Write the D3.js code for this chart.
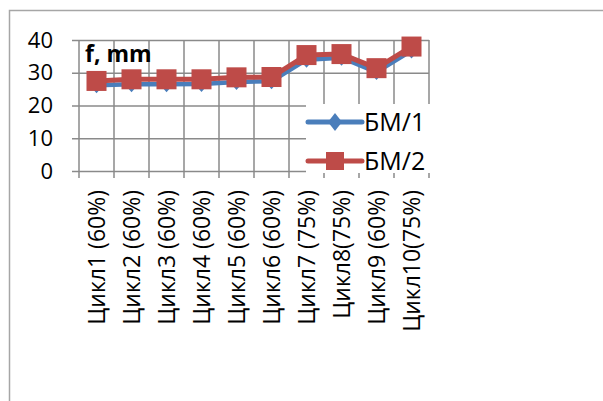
<!DOCTYPE html>
<html>
<head>
<meta charset="utf-8">
<script src="https://cdn.jsdelivr.net/npm/d3@7"></script>
<style>
  body { margin: 0; background: #fff; }
  text { font-family: "Open Sans", "Liberation Sans", sans-serif; }
</style>
</head>
<body>
<div id="chart-area"></div>
<script>
// chart values
const categories = ["Цикл1 (60%)", "Цикл2 (60%)", "Цикл3 (60%)", "Цикл4 (60%)", "Цикл5 (60%)",
    "Цикл6 (60%)", "Цикл7 (75%)", "Цикл8(75%)", "Цикл9 (60%)", "Цикл10(75%)"];
const bm1 = [26.2, 26.5, 26.5, 26.6, 27.2, 27.4, 34.0, 34.6, 30.2, 36.8];
const bm2 = [27.5, 28.0, 28.0, 28.0, 28.6, 28.7, 35.4, 35.7, 31.4, 38.0];
const seriesNames = ["БМ/1", "БМ/2"];
const yTicks = [0, 10, 20, 30, 40];
const axisTitle = "f, mm";

var W = 603, H = 401;
var plotLeft = 79, plotRight = 429, plotTop = 40, plotBottom = 171;
var gridColor = "#8a8a8a";

var svg = d3.select("#chart-area")
    .append("svg")
    .attr("width", W)
    .attr("height", H);

// outer chart frame
svg.append("rect")
    .attr("x", 9.5)
    .attr("y", 10.5)
    .attr("width", W)
    .attr("height", H)
    .attr("fill", "#fff")
    .attr("stroke", "#a6a6a6")
    .attr("stroke-width", 1.5);

const x = d3.scaleBand()
    .domain(categories)
    .range([plotLeft, plotRight])
    .padding(0);

const y = d3.scaleLinear()
    .domain([0, 40])
    .range([plotBottom, plotTop]);

// horizontal grid + y labels
var yAxis = svg.append("g")
    .attr("transform", `translate(${plotLeft - 7}, 0)`)
    .call(d3.axisLeft(y)
        .tickValues(yTicks)
        .tickSize(-(plotRight - plotLeft + 7))
        .tickPadding(19));
yAxis.select(".domain").remove();
yAxis.selectAll("line")
    .attr("stroke", gridColor)
    .attr("stroke-width", 1.5);
yAxis.selectAll("text")
    .attr("font-size", "22px")
    .attr("fill", "#000");

// vertical grid at category boundaries, with ticks below the axis
var bounds = categories.map(c => x(c)).concat([x(categories[categories.length - 1]) + x.bandwidth()]);
svg.append("g")
    .selectAll("line")
    .data(bounds)
    .enter()
    .append("line")
    .attr("x1", d => d)
    .attr("x2", d => d)
    .attr("y1", plotTop)
    .attr("y2", plotBottom + 7)
    .attr("stroke", gridColor)
    .attr("stroke-width", 1.5);

// x labels, rotated
svg.append("g")
    .selectAll("text")
    .data(categories)
    .enter()
    .append("text")
    .attr("transform", d => `translate(${x(d) + x.bandwidth() / 2}, 190) rotate(-90)`)
    .attr("text-anchor", "end")
    .attr("dy", "0.36em")
    .attr("font-size", "23px")
    .attr("fill", "#000")
    .text(d => d);

// axis title inside plot
svg.append("text")
    .attr("x", 85)
    .attr("y", 62)
    .attr("font-size", "23px")
    .attr("font-weight", "bold")
    .attr("fill", "#000")
    .text(axisTitle);

const cx = d => x(d) + x.bandwidth() / 2;
const line = d3.line()
    .x(d => cx(d.c))
    .y(d => y(d.v));

const blueColor = "#4a7ebb", redColor = "#be4b48";
var s1 = categories.map((c, i) => ({ c: c, v: bm1[i] }));
var s2 = categories.map((c, i) => ({ c: c, v: bm2[i] }));

svg.append("path")
    .datum(s1)
    .attr("d", line)
    .attr("fill", "none")
    .attr("stroke", blueColor)
    .attr("stroke-width", 4.5)
    .attr("stroke-linejoin", "round");

svg.append("g")
    .selectAll("path")
    .data(s1)
    .enter()
    .append("path")
    .attr("d", "M0,-8L7,0L0,8L-7,0Z")
    .attr("transform", d => `translate(${cx(d.c)}, ${y(d.v)})`)
    .attr("fill", blueColor);

svg.append("path")
    .datum(s2)
    .attr("d", line)
    .attr("fill", "none")
    .attr("stroke", redColor)
    .attr("stroke-width", 5)
    .attr("stroke-linejoin", "round");

svg.append("g")
    .selectAll("rect")
    .data(s2)
    .enter()
    .append("rect")
    .attr("x", d => cx(d.c) - 10)
    .attr("y", d => y(d.v) - 10)
    .attr("width", 20)
    .attr("height", 20)
    .attr("fill", redColor);

// legend
var legend = svg.append("g");
legend.append("rect")
    .attr("x", 306)
    .attr("y", 104)
    .attr("width", 126)
    .attr("height", 69)
    .attr("fill", "#fff");

var rows = [122, 161];
seriesNames.forEach((name, i) => {
    var ly = rows[i];
    var col = i === 0 ? blueColor : redColor;
    legend.append("line")
        .attr("x1", 308)
        .attr("x2", 362)
        .attr("y1", ly)
        .attr("y2", ly)
        .attr("stroke", col)
        .attr("stroke-width", 5)
        .attr("stroke-linecap", "round");
    if (i === 0) {
        legend.append("path")
            .attr("d", "M0,-9L7,0L0,9L-7,0Z")
            .attr("transform", `translate(335, ${ly})`)
            .attr("fill", col);
    } else {
        legend.append("rect")
            .attr("x", 326)
            .attr("y", ly - 9)
            .attr("width", 18)
            .attr("height", 18)
            .attr("fill", col);
    }
    legend.append("text")
        .attr("x", 364)
        .attr("y", ly)
        .attr("dy", "0.36em")
        .attr("font-size", "25px")
        .attr("fill", "#000")
        .text(name);
});
</script>
</body>
</html>
